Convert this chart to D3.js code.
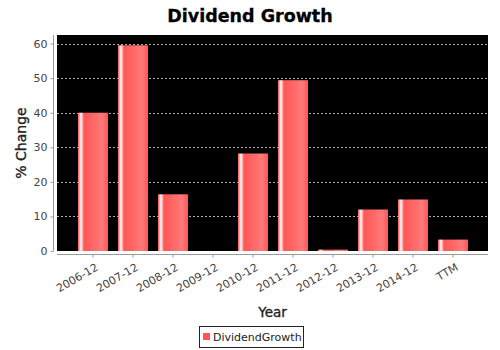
<!DOCTYPE html>
<html>
<head>
<meta charset="utf-8">
<script src="https://cdn.jsdelivr.net/npm/d3@7"></script>
<style>
  html, body { margin: 0; padding: 0; background: #fff; }
  svg { display: block; }
</style>
</head>
<body>
<script>
// Annual dividend growth, percent change per year
const categories = ["2006-12", "2007-12", "2008-12", "2009-12", "2010-12", "2011-12", "2012-12", "2013-12", "2014-12", "TTM"];
const growthValues = [40.0, 59.5, 16.4, 0.0, 28.2, 49.4, 0.4, 12.0, 14.9, 3.3];
const yTicks = [0, 10, 20, 30, 40, 50, 60];
const seriesName = "DividendGrowth";

const W = 500, H = 350;
const plot = { left: 57, right: 488, top: 35, bottom: 251 };

const svg = d3.select("body").append("svg").attr("width", W).attr("height", H);

// Bar gradient: dark edge, white highlight, base, lighter middle, back to base
const base = d3.rgb("#ff5555");
const light = d3.rgb(255, 121, 121);
const grad = svg.append("defs").append("linearGradient")
  .attr("id", "barGrad").attr("x1", "0%").attr("x2", "100%").attr("y1", "0%").attr("y2", "0%");
[[0, base], [0.10, d3.rgb("#ffffff")], [0.20, base], [0.80, light], [1, base]].forEach(([o, c]) => {
  grad.append("stop").attr("offset", o).attr("stop-color", c.formatHex());
});

const x = d3.scaleBand()
  .domain(categories)
  .range([plot.left, plot.right + 1])
  .paddingInner(0.25)
  .paddingOuter(0.525);

const y = d3.scaleLinear()
  .domain([0, d3.max(growthValues) * 1.05])
  .range([plot.bottom, plot.top]);

// Title
svg.append("text")
  .attr("x", W / 2).attr("y", 22)
  .attr("text-anchor", "middle")
  .attr("font-family", "DejaVu Sans, sans-serif")
  .attr("font-weight", "bold").attr("font-size", 17.5)
  .attr("fill", "#000")
  .attr("stroke", "#000").attr("stroke-width", 0.3)
  .text("Dividend Growth");

// Plot background
svg.append("rect")
  .attr("x", plot.left).attr("y", plot.top)
  .attr("width", plot.right - plot.left).attr("height", plot.bottom - plot.top)
  .attr("fill", "#000");

// Horizontal dashed gridlines
svg.append("g").selectAll("line")
  .data(yTicks.filter(d => d > 0))
  .join("line")
  .attr("x1", plot.left).attr("x2", plot.right)
  .attr("y1", d => Math.round(y(d)) + 0.5).attr("y2", d => Math.round(y(d)) + 0.5)
  .attr("stroke", "#b0b0b0").attr("stroke-width", 1)
  .attr("stroke-dasharray", "2,2");

// Bars
svg.append("g").selectAll("rect")
  .data(categories.map((c, i) => ({ c, v: growthValues[i] })))
  .join("rect")
  .attr("x", d => x(d.c))
  .attr("width", x.bandwidth())
  .attr("y", d => y(d.v))
  .attr("height", d => y(0) - y(d.v))
  .attr("fill", "url(#barGrad)");

// Y axis (offset 4px left of plot)
const yAxis = d3.axisLeft(y).tickValues(yTicks).tickSize(3).tickPadding(3);
const gy = svg.append("g")
  .attr("transform", `translate(${plot.left - 3.5},0)`)
  .call(yAxis);
gy.select(".domain").attr("d", `M0,${plot.top}V${plot.bottom}`).attr("stroke", "#999");
gy.selectAll(".tick line").attr("stroke", "#999");
gy.selectAll(".tick text")
  .attr("font-family", "DejaVu Sans, sans-serif").attr("font-size", 11)
  .attr("fill", "#444");

// X axis (offset 4px below plot)
const xAxis = d3.axisBottom(x).tickSize(3).tickSizeOuter(0).tickPadding(3);
const gx = svg.append("g")
  .attr("transform", `translate(0,${plot.bottom + 3.5})`)
  .call(xAxis);
gx.select(".domain").attr("d", `M${plot.left},0H${plot.right}`).attr("stroke", "#999");
gx.selectAll(".tick line").attr("stroke", "#999");
gx.selectAll(".tick text")
  .attr("font-family", "DejaVu Sans, sans-serif").attr("font-size", 11)
  .attr("fill", "#444")
  .attr("text-anchor", "end")
  .attr("dy", null)
  .attr("transform", "translate(6,15) rotate(-30)")
  .attr("y", 0).attr("x", 0);

// Axis labels
svg.append("text")
  .attr("x", (plot.left + plot.right) / 2).attr("y", 317)
  .attr("text-anchor", "middle")
  .attr("font-family", "DejaVu Sans, sans-serif")
  .attr("font-size", 13.5)
  .attr("fill", "#222")
  .attr("stroke", "#222").attr("stroke-width", 0.35)
  .text("Year");

svg.append("text")
  .attr("transform", `translate(26,${(plot.top + plot.bottom) / 2}) rotate(-90)`)
  .attr("text-anchor", "middle")
  .attr("font-family", "DejaVu Sans, sans-serif")
  .attr("font-size", 14)
  .attr("fill", "#222")
  .attr("stroke", "#222").attr("stroke-width", 0.35)
  .text("% Change");

// Legend
const legend = svg.append("g");
legend.append("rect")
  .attr("x", 199.5).attr("y", 326.5).attr("width", 104).attr("height", 21)
  .attr("fill", "#fff").attr("stroke", "#222");
legend.append("rect")
  .attr("x", 203).attr("y", 333).attr("width", 7).attr("height", 7)
  .attr("fill", base.formatHex());
legend.append("text")
  .attr("x", 213).attr("y", 341)
  .attr("font-family", "DejaVu Sans, sans-serif").attr("font-size", 11)
  .attr("fill", "#222")
  .text(seriesName);
</script>
</body>
</html>
